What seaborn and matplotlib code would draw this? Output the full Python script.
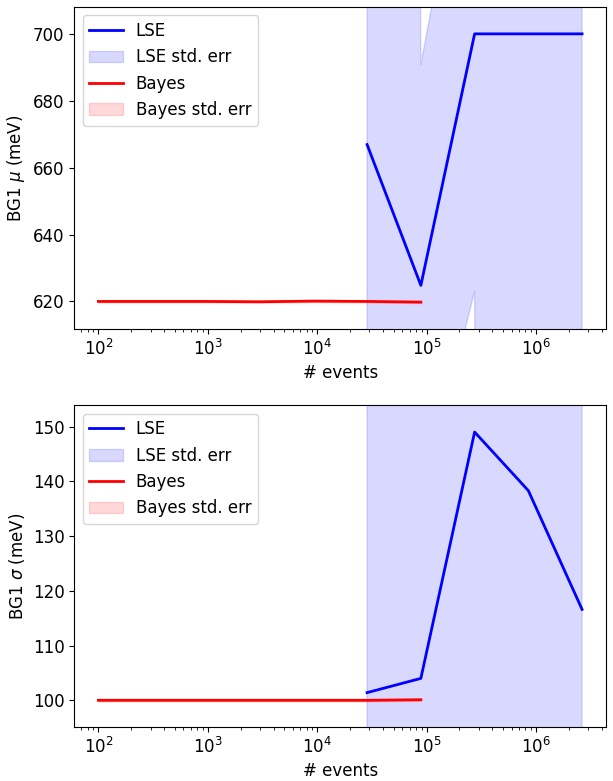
import numpy as np
import pandas as pd
import seaborn as sns
import matplotlib
matplotlib.use("Agg")
import matplotlib.pyplot as plt

# ==========================================
# DATA
# ==========================================
n_events = [100, 310, 960, 2980, 9230, 28600, 88700, 275000, 852000, 2640000]

bayes_n = n_events[:7]
bayes_mu = [620.0, 620.0, 620.0, 619.9, 620.1, 620.0, 619.8]
bayes_mu_err = [0.3, 0.3, 0.3, 0.3, 0.3, 0.3, 0.3]
bayes_sigma = [100.0, 100.0, 100.0, 100.0, 100.0, 100.0, 100.1]
bayes_sigma_err = [0.2, 0.2, 0.2, 0.2, 0.2, 0.2, 0.2]

lse_n = n_events[5:]
lse_mu = [666.9, 624.8, 700.0, 700.0, 700.0]
lse_mu_err = [3000.0, 66.0, 77.0, 3000.0, 3000.0]
lse_sigma = [101.4, 104.0, 149.0, 138.3, 116.6]
lse_sigma_err = [3000.0, 3000.0, 3000.0, 3000.0, 3000.0]

panels = [
    ("BG1 $\\mu$ (meV)", lse_mu, lse_mu_err, bayes_mu, bayes_mu_err),
    ("BG1 $\\sigma$ (meV)", lse_sigma, lse_sigma_err, bayes_sigma, bayes_sigma_err),
]

plt.rcParams['font.size'] = 12

fig, axes = plt.subplots(2, 1, figsize=(6.13, 7.81), dpi=100)
fig.subplots_adjust(left=0.121, right=0.989, top=0.991, bottom=0.069, hspace=0.237)

for ax, (ylab, lse_y, lse_e, bay_y, bay_e) in zip(axes, panels):
    lse = pd.DataFrame({'n': lse_n, 'y': lse_y, 'e': lse_e})
    bay = pd.DataFrame({'n': bayes_n, 'y': bay_y, 'e': bay_e})

    sns.lineplot(data=lse, x='n', y='y', color='blue', lw=2, label='LSE', ax=ax)
    ax.fill_between(lse['n'], lse['y'] - lse['e'], lse['y'] + lse['e'],
                    color='blue', alpha=0.15, label='LSE std. err')
    sns.lineplot(data=bay, x='n', y='y', color='red', lw=2, label='Bayes', ax=ax)
    ax.fill_between(bay['n'], bay['y'] - bay['e'], bay['y'] + bay['e'],
                    color='red', alpha=0.15, label='Bayes std. err')

    # y range: data span padded by 10% on each side
    lo = min(min(lse_y), min(bay_y))
    hi = max(max(lse_y), max(bay_y))
    pad = 0.1 * (hi - lo)
    ax.set_ylim(lo - pad, hi + pad)

    ax.set_xscale('log')
    ax.set_xlabel('# events')
    ax.set_ylabel(ylab)
    ax.legend(loc='upper left')

fig.savefig('out.png', dpi=100)
